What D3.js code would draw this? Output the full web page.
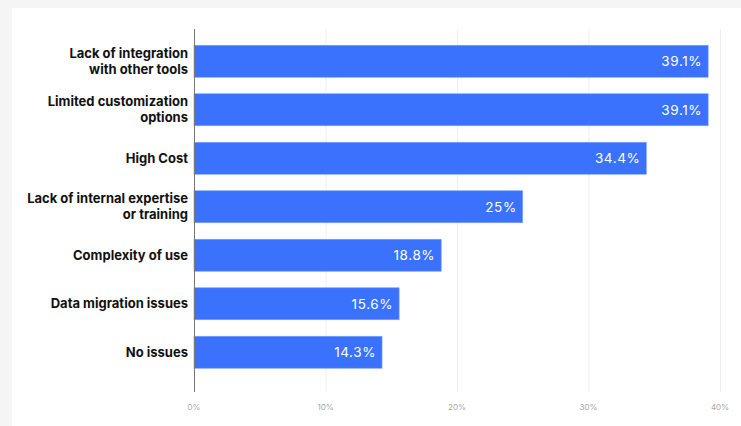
<!DOCTYPE html>
<html lang="en">
<head>
    <meta charset="UTF-8">
    <title>bar chart</title>
    <script src="https://cdn.jsdelivr.net/npm/d3@7"></script>
    <style>
        body {
            margin: 0;
            background: #f5f5f5;
        }

        svg {
            display: block;
        }

        .card {
            fill: #ffffff;
        }

        .grid line {
            stroke: #efefef;
            stroke-width: 1px;
        }

        .axis-line {
            stroke: #777;
            stroke-width: 1px;
        }

        .bar {
            fill: #3a72fd;
            stroke: #7ea2ff;
            stroke-width: 0.6px;
        }

        .value {
            fill: #ffffff;
            font-family: Inter, "Noto Sans", sans-serif;
            font-size: 13.5px;
            letter-spacing: 0.6px;
            text-anchor: end;
        }

        .cat {
            fill: #111;
            font-family: Inter, "Noto Sans", sans-serif;
            font-weight: 700;
            font-size: 13px;
            text-anchor: end;
        }

        .tick-label {
            fill: #a8a8a8;
            font-family: Inter, "Noto Sans", sans-serif;
            font-size: 8px;
            text-anchor: middle;
        }
    </style>
</head>
<body>
<svg width="741" height="426"></svg>
<script>

    // data
    var categories = [
        ['Lack of integration', 'with other tools'],
        ['Limited customization', 'options'],
        ['High Cost'],
        ['Lack of internal expertise', 'or training'],
        ['Complexity of use'],
        ['Data migration issues'],
        ['No issues']
    ];
    var values = [39.1, 39.1, 34.4, 25, 18.8, 15.6, 14.3];
    var valueLabels = ['39.1%', '39.1%', '34.4%', '25%', '18.8%', '15.6%', '14.3%'];
    var tickValues = [0, 10, 20, 30, 40];

    var svg = d3.select('svg');

    svg.append('rect')
        .attr('class', 'card')
        .attr('x', 12)
        .attr('y', 8)
        .attr('width', 741 - 12)
        .attr('height', 426 - 8);

    var x = d3.scaleLinear()
        .domain([0, 40])
        .range([194, 720]);

    var ids = d3.range(categories.length);

    var y = d3.scaleBand()
        .domain(ids)
        .range([37, 376.5])
        .paddingInner(0.34)
        .paddingOuter(0.17);

    var plotTop = 29;
    var plotBottom = 392;

    // grid
    svg.append('g')
        .attr('class', 'grid')
        .selectAll('line')
        .data(tickValues.slice(1))
        .enter()
        .append('line')
        .attr('x1', function (d) { return x(d) + 0.5; })
        .attr('x2', function (d) { return x(d) + 0.5; })
        .attr('y1', plotTop)
        .attr('y2', plotBottom);

    // bars
    svg.append('g')
        .selectAll('rect')
        .data(ids)
        .enter()
        .append('rect')
        .attr('class', 'bar')
        .attr('x', x(0))
        .attr('y', function (i) { return y(i); })
        .attr('width', function (i) { return x(values[i]) - x(0); })
        .attr('height', y.bandwidth());

    // value labels
    svg.append('g')
        .selectAll('text')
        .data(ids)
        .enter()
        .append('text')
        .attr('class', 'value')
        .attr('x', function (i) { return x(values[i]) - 6; })
        .attr('y', function (i) { return y(i) + y.bandwidth() / 2; })
        .attr('dy', '0.36em')
        .text(function (i) { return valueLabels[i]; });

    // category labels
    var catG = svg.append('g');
    ids.forEach(function (i) {
        var lines = categories[i];
        var mid = y(i) + y.bandwidth() / 2;
        var lh = 16;
        var t = catG.append('text')
            .attr('class', 'cat')
            .attr('x', 188)
            .attr('y', mid - (lines.length - 1) * lh / 2);
        lines.forEach(function (line, k) {
            t.append('tspan')
                .attr('x', 188)
                .attr('dy', k === 0 ? '0.36em' : lh)
                .text(line);
        });
    });

    // axis line
    svg.append('line')
        .attr('class', 'axis-line')
        .attr('x1', x(0) + 0.5)
        .attr('x2', x(0) + 0.5)
        .attr('y1', plotTop)
        .attr('y2', plotBottom);

    // tick labels
    svg.append('g')
        .selectAll('text')
        .data(tickValues)
        .enter()
        .append('text')
        .attr('class', 'tick-label')
        .attr('x', function (d) { return x(d); })
        .attr('y', 410)
        .text(function (d) { return d + '%'; });

</script>
</body>
</html>
